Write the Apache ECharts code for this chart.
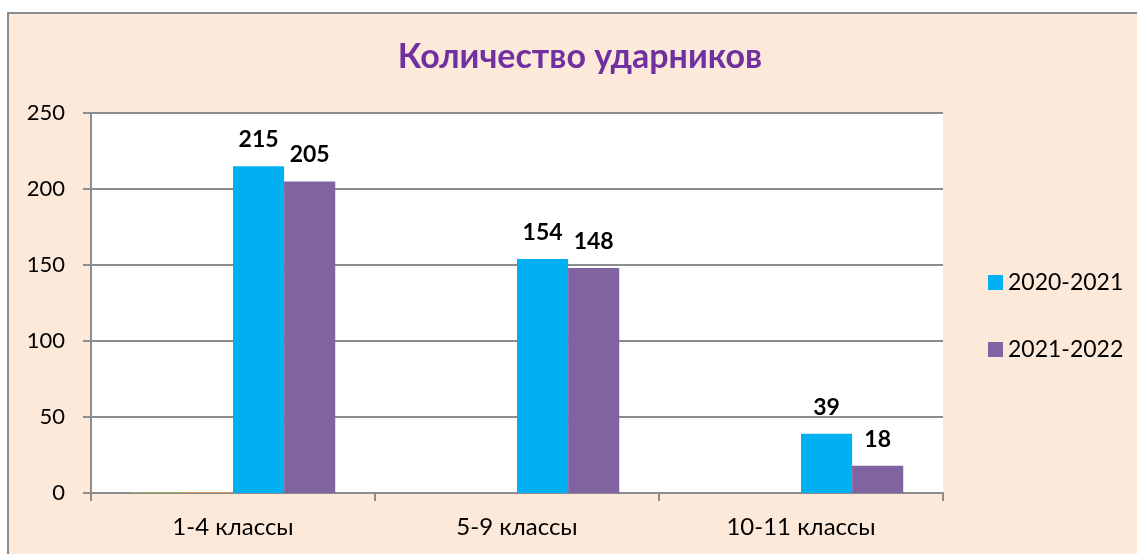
<html lang="ru">
    <head>
        <meta charset="UTF-8">
        <title>Количество ударников</title>
        <script src="https://cdn.jsdelivr.net/npm/echarts@6/dist/echarts.min.js"></script>
        <style>
            body { margin: 0; background: #fff; }
        </style>
    </head>
    <body>
        <div id="chart_1" style="width:1137px; height:554px;"></div>
        <script>
            // данные диаграммы
            var categories = ['1-4 классы', '5-9 классы', '10-11 классы'];
            var hiddenA = [0.5, null, null];   // пустые ряды слева (видна только тонкая линия)
            var hiddenB = [0.5, null, null];
            var year2020 = [215, 154, 39];
            var year2021 = [205, 148, 18];
            var yTicks = [0, 250, 50];          // min, max, interval

            let myChart = echarts.init(document.getElementById('chart_1'));

            var gray = '#8c8c8c';
            var font = 'Lato, "Open Sans", sans-serif';

            var labelStyle = {
                show: true,
                position: 'top',
                distance: 15,
                color: '#000',
                fontWeight: 'bold',
                fontSize: 23,
                fontFamily: font
            };

            option = {
                backgroundColor: '#fff',
                animation: false,
                graphic: [{
                    type: 'rect',
                    z: -10,
                    shape: { x: 8, y: 13, width: 1150, height: 570 },
                    style: { fill: '#FDE9D9', stroke: gray, lineWidth: 2 }
                }],
                title: {
                    text: 'Количество ударников',
                    left: 575,
                    top: 35,
                    textAlign: 'center',
                    textStyle: {
                        color: '#7030A0',
                        fontWeight: 'bold',
                        fontSize: 34,
                        fontFamily: font
                    }
                },
                legend: {
                    orient: 'vertical',
                    left: 988,
                    top: 271,
                    padding: 0,
                    itemGap: 44,
                    itemWidth: 15,
                    itemHeight: 15,
                    icon: 'rect',
                    data: ['2020-2021', '2021-2022'],
                    textStyle: { color: '#000', fontSize: 23, fontFamily: font }
                },
                grid: {
                    left: 91, top: 113, right: 194, bottom: 61,
                    show: true,
                    backgroundColor: '#fff',
                    borderWidth: 0
                },
                xAxis: {
                    type: 'category',
                    data: categories,
                    axisLine: { lineStyle: { color: gray, width: 2 } },
                    axisTick: { show: true, length: 8, lineStyle: { color: gray, width: 2 } },
                    axisLabel: { color: '#000', fontSize: 24, margin: 22, fontFamily: font }
                },
                yAxis: {
                    type: 'value',
                    min: yTicks[0],
                    max: yTicks[1],
                    interval: yTicks[2],
                    axisLine: { show: true, lineStyle: { color: gray, width: 2 } },
                    axisTick: { show: true, length: 8, lineStyle: { color: gray, width: 2 } },
                    splitLine: { lineStyle: { color: gray, width: 2 } },
                    axisLabel: { color: '#000', fontSize: 22, margin: 26, fontFamily: font }
                },
                series: [{
                    name: 'ряд 1',
                    type: 'bar',
                    barGap: '0%',
                    barCategoryGap: '28%',
                    itemStyle: { color: '#9BBB59' },
                    data: hiddenA
                }, {
                    name: 'ряд 2',
                    type: 'bar',
                    itemStyle: { color: '#F79646' },
                    data: hiddenB
                }, {
                    name: '2020-2021',
                    type: 'bar',
                    itemStyle: { color: '#00B0F0' },
                    label: labelStyle,
                    data: year2020
                }, {
                    name: '2021-2022',
                    type: 'bar',
                    itemStyle: { color: '#8064A2' },
                    label: labelStyle,
                    data: year2021
                }]
            };

            myChart.setOption(option);
        </script>
    </body>
</html>
